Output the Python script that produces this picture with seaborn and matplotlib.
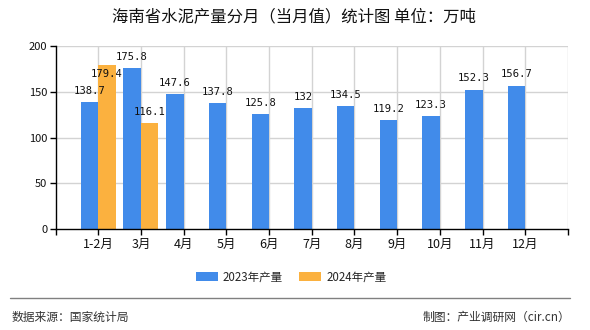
import matplotlib
matplotlib.use("Agg")
import matplotlib.pyplot as plt
import seaborn as sns
import pandas as pd
import numpy as np
from matplotlib.lines import Line2D
from matplotlib.patches import Patch

months = ["1-2月", "3月", "4月", "5月", "6月", "7月", "8月", "9月", "10月", "11月", "12月"]
series_names = ["2023年产量", "2024年产量"]
values_2023 = [138.7, 175.8, 147.6, 137.8, 125.8, 132, 134.5, 119.2, 123.3, 152.3, 156.7]
values_2024 = [179.4, 116.1, None, None, None, None, None, None, None, None, None]
colors = ["#418BEA", "#FBB13F"]
title = "海南省水泥产量分月（当月值）统计图 单位：万吨"
source_text = "数据来源：国家统计局"
credit_text = "制图：产业调研网（cir.cn）"
y_ticks = [0, 50, 100, 150, 200]

sns.set_theme(style="white")
plt.rcParams["font.family"] = ["Noto Sans CJK SC", "DejaVu Sans"]

rows = []
for m, v in zip(months, values_2023):
    rows.append({"month": m, "series": series_names[0], "value": v})
for m, v in zip(months, values_2024):
    rows.append({"month": m, "series": series_names[1], "value": np.nan if v is None else v})
df = pd.DataFrame(rows)

W, H = 590, 330
fig = plt.figure(figsize=(W / 100, H / 100), dpi=100)
ax = fig.add_axes([55.5 / W, 1 - 229.3 / H, (568 - 55.5) / W, (229.3 - 46) / H])

sns.barplot(data=df, x="month", y="value", hue="series", order=months,
            hue_order=series_names, palette=colors, width=0.82, dodge=True,
            saturation=1, ax=ax, legend=False, zorder=3, linewidth=0, edgecolor="none")

fig.canvas.draw()
renderer = fig.canvas.get_renderer()
placed = []
for container in ax.containers:
    for bar in container:
        h = bar.get_height()
        if np.isnan(h) or h == 0:
            continue
        txt = f"{h:g}"
        xc = bar.get_x() + bar.get_width() / 2
        t = ax.annotate(txt, (xc, h), xytext=(0, 4.5),
                        textcoords="offset points", ha="center", va="bottom",
                        fontsize=7.6, family="DejaVu Sans Mono", color="#111111", zorder=5)
        bb = t.get_window_extent(renderer)
        if any(bb.overlaps(p) for p in placed):
            t.set_position((0, -3))
            t.set_va("top")
            bb = t.get_window_extent(renderer)
        placed.append(bb)

ax.set_xlim(-1, 11)
ax.set_ylim(0, 200)
ax.set_yticks(y_ticks)
ax.set_xticks(range(-1, 12))
ax.set_xticklabels([""] + months + [""])
ax.set_xlabel("")
ax.set_ylabel("")

for x in range(0, 12):
    ax.axvline(x, color="#d3d3d3", lw=1, zorder=1)
for y in y_ticks[1:]:
    ax.axhline(y, color="#d3d3d3", lw=1, zorder=1)

for s in ["top", "right"]:
    ax.spines[s].set_visible(False)
for s in ["left", "bottom"]:
    ax.spines[s].set_color("black")
    ax.spines[s].set_linewidth(1)
    ax.spines[s].set_zorder(4)

ax.tick_params(axis="both", which="both", direction="out", length=4, width=1,
               color="black", labelcolor="#111111", pad=2, bottom=True, left=True)
ax.tick_params(axis="x", labelsize=9)
ax.tick_params(axis="y", labelsize=8)

fig.text(294 / W, 1 - 17 / H, title, ha="center", va="center", fontsize=11.8,
         color="#111111", fontweight="medium")

handles = [Patch(facecolor=c, edgecolor="none") for c in colors]
fig.legend(handles, series_names, loc="center", bbox_to_anchor=(291 / W, 1 - 277 / H),
           ncol=2, frameon=False, fontsize=8.3, handlelength=1.9, handleheight=0.9,
           columnspacing=1.4, handletextpad=0.45)

fig.add_artist(Line2D([10 / W, 570 / W], [1 - 298 / H, 1 - 298 / H],
                      color="#808080", lw=1, transform=fig.transFigure))
fig.text(12 / W, 1 - 317 / H, source_text, ha="left", va="center", fontsize=8.5, color="#333333")
fig.text(570 / W, 1 - 317 / H, credit_text, ha="right", va="center", fontsize=8.5, color="#333333")

fig.savefig("out.png", dpi=100)
